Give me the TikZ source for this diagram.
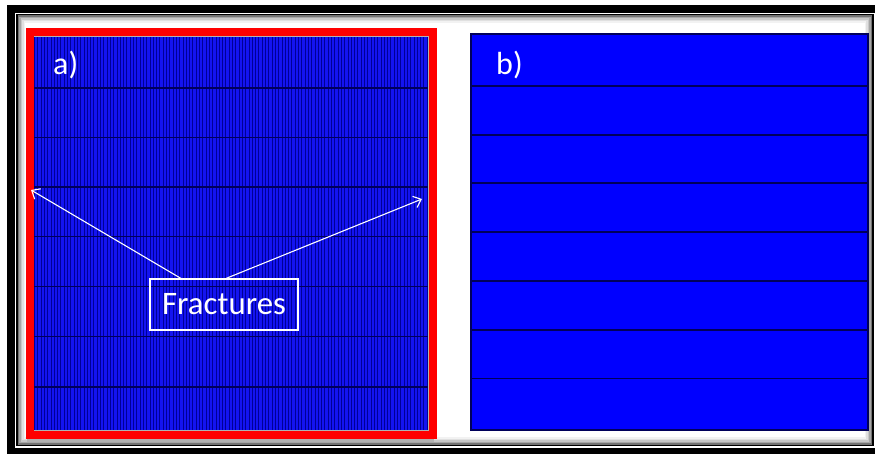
\documentclass[tikz,border=0pt]{standalone}
\usepackage{fontspec}
\setmainfont{Carlito}
\usetikzlibrary{arrows.meta}
\definecolor{pblue}{RGB}{0,0,255}
\definecolor{ablue}{RGB}{20,20,240}
\definecolor{astripe}{RGB}{0,0,150}
\definecolor{navy}{RGB}{0,0,90}
\definecolor{pred}{RGB}{255,0,0}
\tikzset{
  gridline/.style={draw=navy,line width=1.6pt},
  bline/.style={draw=navy,line width=1.8pt},
  stripe/.style={draw=astripe,line width=0.9pt},
  lbl/.style={text=white,font=\fontsize{32}{36}\selectfont,inner sep=0pt,anchor=base west},
  fbox/.style={draw=white,line width=1.1pt,text=white,font=\fontsize{32.8}{36}\selectfont,minimum width=148pt,minimum height=51pt,inner sep=0pt},
  arr/.style={draw=white,line width=1.1pt,-{Straight Barb[length=7pt,width=12pt,line width=1.1pt]}}
}
\begin{document}
\begin{tikzpicture}[x=1pt,y=-1pt]
\useasboundingbox (0,0) rectangle (875,453);
\fill[white] (0,0) rectangle (875,453);
\begin{scope}
\clip (0,0) rectangle (875,453);
% outer frame
\draw[black,line width=8pt] (11,9) rectangle (890,452);
\draw[white,line width=2pt] (15.5,14) rectangle (880,446);
\draw[black,line width=1.5pt] (17,14.5) rectangle (873,445.5);
\foreach \d/\c in {1.5/55,3/35,4.5/22,6/12,7.5/5}
  \draw[black!\c,line width=1.6pt] (17+\d,14.5+\d) rectangle (873-\d,445.5-\d);
\end{scope}
% panel a
\fill[black!30] (27,34) rectangle (434,442);
\fill[ablue] (33,37) rectangle (428,430);
\foreach \i in {0,...,119}
  \draw[stripe] ({34.5+\i*3.3},37) -- ++(0,393);
\foreach \y in {88,137.5,187,236.5,286.5,336.5,387}
  \draw[gridline] (33,\y) -- (428,\y);
\draw[pred,line width=8.5pt] (30,32) rectangle (433,435);
% panel b
\fill[pblue] (471,34) rectangle (868,430);
\foreach \y in {86,135,183,232,281,330,378.5}
  \draw[bline] (471,\y) -- (868,\y);
\draw[navy,line width=1.4pt] (471,34) rectangle (868,430);
% labels
\node[lbl] (la) at (53,74) {a)};
\node[lbl] (lb) at (496,74) {b)};
\node[fbox] (fr) at (224,304.5) {Fractures};
\coordinate (tipL) at (31,190);
\coordinate (tipR) at (422,199);
\draw[arr] ([xshift=-43pt]fr.north) -- (tipL);
\draw[arr] ([xshift=2pt]fr.north) -- (tipR);
\end{tikzpicture}
\end{document}
